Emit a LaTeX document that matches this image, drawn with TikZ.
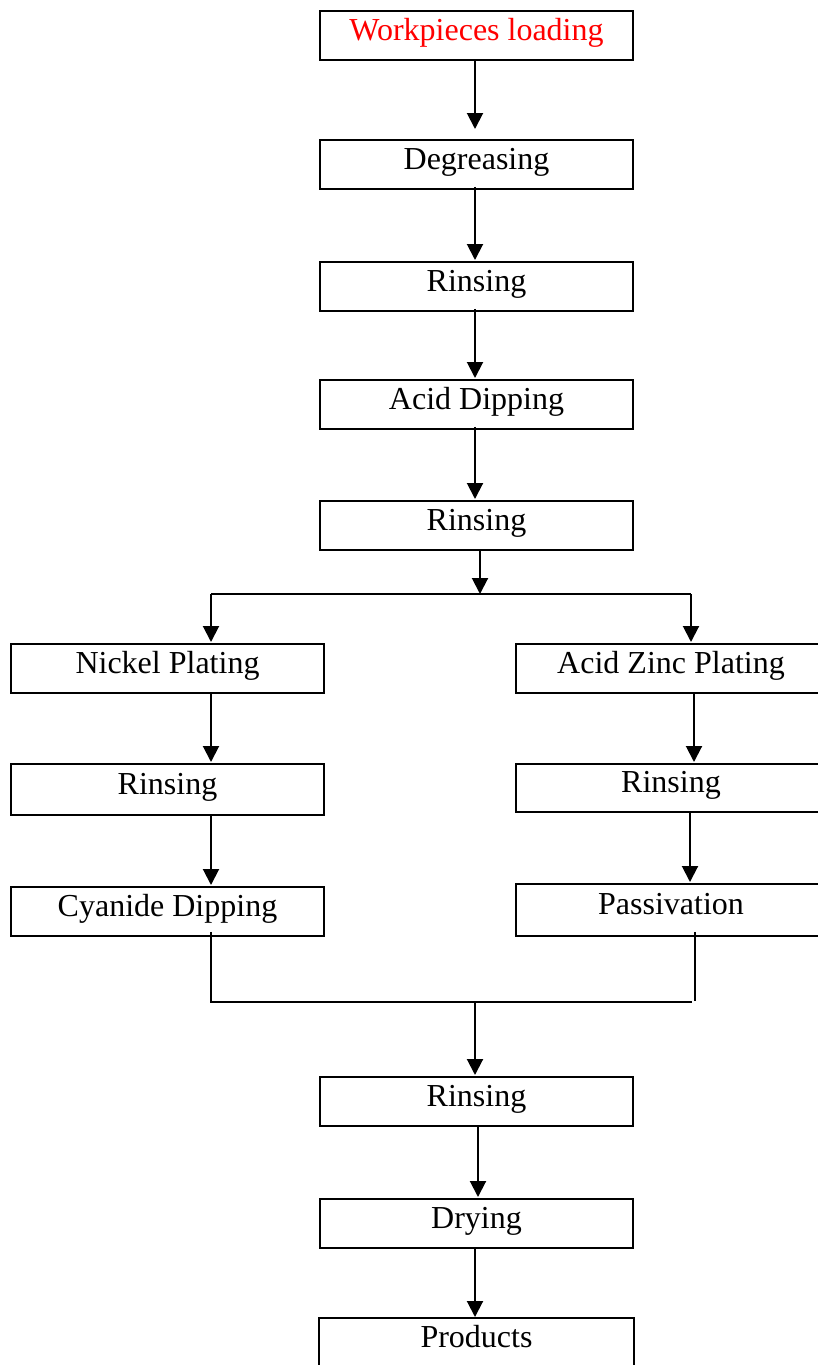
\documentclass[tikz,border=0pt]{standalone}
\usepackage{fontspec}
\setmainfont{Liberation Serif}
\usetikzlibrary{arrows.meta}
\begin{document}
\begin{tikzpicture}[x=1pt,y=-1pt,
  stagebox/.style={draw=black, line width=1.8pt, minimum width=313pt, minimum height=49pt,
    inner sep=0pt, text height=18pt, text depth=8pt, anchor=north,
    font=\fontsize{32}{38}\selectfont},
  sidebox/.style={stagebox, minimum width=310pt},
  flow/.style={line width=2pt, -{Triangle[width=16pt,length=16pt]}, shorten >=1pt},
  joint/.style={line width=1.8pt}]
\useasboundingbox (0,0) rectangle (817,1365);
% main column
\node[stagebox, text=red] (wl) at (476.5,10) {Workpieces loading};
\node[stagebox] (deg) at (476.5,139) {Degreasing};
\node[stagebox] (r1) at (476.5,261) {Rinsing};
\node[stagebox] (ad) at (476.5,379) {Acid Dipping};
\node[stagebox] (r2) at (476.5,500) {Rinsing};
% left branch
\node[stagebox] (np) at (167.5,643) {Nickel Plating};
\node[stagebox, minimum height=51pt] (rl) at (167.5,763) {Rinsing};
\node[stagebox] (cd) at (167.5,886) {Cyanide Dipping};
% right branch (runs past the right edge)
\node[sidebox] (az) at (671,643) {Acid Zinc Plating};
\node[sidebox, minimum height=48pt] (rr) at (671,763) {Rinsing};
\node[sidebox, minimum height=52pt] (pa) at (671,883) {Passivation};
% lower column
\node[stagebox] (r3) at (476.5,1076) {Rinsing};
\node[stagebox] (dry) at (476.5,1198) {Drying};
\node[stagebox, draw=none, minimum height=47pt] (prod) at (476.5,1318) {Products};
\draw[line width=1.8pt] (prod.south west) -- (prod.north west) -- (prod.north east) -- (prod.south east);
% junction coordinates
\coordinate (col) at (475,0);
\coordinate (split) at (480,594);
\coordinate (sl) at (211,594);
\coordinate (sr) at (691,594);
\coordinate (ml) at (211,1002);
\coordinate (mr) at (695,1002);
\coordinate (merge) at (475,1002);
\coordinate (azx) at (694,0);
\coordinate (rrx) at (690,0);
% connectors
\draw[flow, shorten >=10pt] (col |- wl.south) -- (col |- deg.north);
\draw[flow] ([yshift=3pt]col |- deg.south) -- (col |- r1.north);
\draw[flow] ([yshift=3pt]col |- r1.south) -- (col |- ad.north);
\draw[flow] ([yshift=3pt]col |- ad.south) -- (col |- r2.north);
\draw[flow, shorten >=0pt] (split |- r2.south) -- (split);
\draw[joint] (sl) -- (sr);
\draw[flow] (sl) -- (sl |- np.north);
\draw[flow] (sr) -- (sr |- az.north);
\draw[flow] (np.south -| sl) -- (rl.north -| sl);
\draw[flow] (rl.south -| sl) -- (cd.north -| sl);
\draw[flow] (azx |- az.south) -- (azx |- rr.north);
\draw[flow] (rrx |- rr.south) -- (rrx |- pa.north);
\draw[joint] ([yshift=5pt]cd.south -| ml) -- (ml) -- ([xshift=-3pt]mr);
\draw[joint] ([yshift=5pt]pa.south -| mr) -- ([yshift=1pt]mr);
\draw[flow] (merge) -- (merge |- r3.north);
\draw[flow] ([xshift=1.5pt]r3.south) -- ([xshift=1.5pt]dry.north);
\draw[flow] (col |- dry.south) -- (col |- prod.north);
\end{tikzpicture}
\end{document}
